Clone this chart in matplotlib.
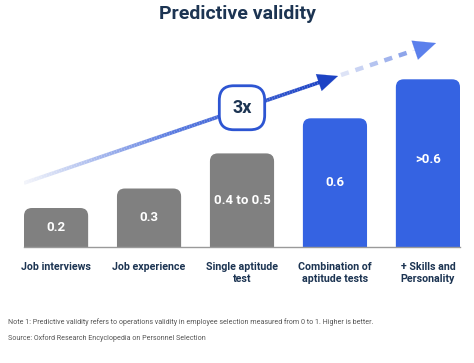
import matplotlib
matplotlib.use('Agg')
import matplotlib.pyplot as plt
import numpy as np
from matplotlib.patches import FancyBboxPatch
from matplotlib.collections import LineCollection
from matplotlib.colors import LinearSegmentedColormap

plt.rcParams['font.family'] = ['Roboto', 'DejaVu Sans']

# data
categories = ['Job interviews', 'Job experience', 'Single aptitude\ntest',
              'Combination of\naptitude tests', '+ Skills and\nPersonality']
bar_labels = ['0.2', '0.3', '0.4 to 0.5', '0.6', '>0.6']
bar_heights = [0.20, 0.30, 0.48, 0.66, 0.86]   # drawn height of each bar
label_pos = [0.10, 0.15, 0.24, 0.33, 0.45]     # where the value text sits
highlight = [False, False, False, True, True]

title = 'Predictive validity'
note = ('Note 1: Predictive validity refers to operations validity in employee '
        'selection measured from 0 to 1. Higher is better.')
source = 'Source: Oxford Research Encyclopedia on Personnel Selection'

navy = '#1c3452'
grey = '#808080'
blue = '#3563e2'

fig = plt.figure(figsize=(4.74, 3.63), dpi=100)
ax = fig.add_axes([24/474, 116/363, 436/474, 217/363])
width = 0.69
x = np.arange(len(categories))
ax.set_xlim(-width/2, len(categories) - 1 + width/2)
ax.set_ylim(0, 217/195)
ax.axis('off')

bars = ax.bar(x, bar_heights, width=width, bottom=0, alpha=0)
aspect = 93/195
for b, lab, ly, hl in zip(bars, bar_labels, label_pos, highlight):
    col = blue if hl else grey
    p = FancyBboxPatch((b.get_x(), -0.08), b.get_width(), b.get_height() + 0.08,
                       boxstyle='round,pad=0,rounding_size=0.085',
                       mutation_aspect=aspect, fc=col, ec='none', zorder=2)
    ax.add_patch(p)
    ax.text(b.get_x() + b.get_width()/2, ly, lab, color='white',
            fontsize=9.5, fontweight='bold', ha='center', va='center', zorder=3)

ax.plot([-width/2, len(categories) - 1 + width/2], [0, 0], color='#9a9a9a',
        lw=1, clip_on=False, zorder=3)

for xi, cat in zip(x, categories):
    ax.text(xi, -0.075, cat, ha='center', va='top', fontsize=7.7,
            fontweight='bold', color=navy, linespacing=1.35)

# trend arrow with gradient
start = np.array([-width/2, 0.328])
tip = np.array([3.033, 0.877])
end = np.array([4.087, 1.046])
cmap = LinearSegmentedColormap.from_list('g', ['#f2f4fa', '#5a7be0', '#1d43c4'])
t = np.linspace(0, 0.95, 120)
pts = start + np.outer(t, tip - start)
segs = np.stack([pts[:-1], pts[1:]], axis=1)
lc = LineCollection(segs, colors=cmap(t[:-1] / 0.95), linewidths=2.7,
                    capstyle='butt', zorder=4)
ax.add_collection(lc)
ax.annotate('', xy=tip, xytext=start + 0.94*(tip - start),
            arrowprops=dict(arrowstyle='-|>,head_length=1.45,head_width=0.64',
                            color='#1d43c4', lw=0.1, shrinkA=0, shrinkB=0,
                            mutation_scale=10), zorder=5)

# dashed continuation
dcmap = LinearSegmentedColormap.from_list('d', ['#dde3f6', '#8ea5ea'])
dash_starts = np.linspace(0.03, 0.62, 5)
dsegs = []
for ds in dash_starts:
    a = tip + ds*(end - tip)
    b2 = tip + (ds + 0.08)*(end - tip)
    dsegs.append([a, b2])
dl = LineCollection(dsegs, colors=dcmap(np.linspace(0, 1, 5)), linewidths=3.2,
                    capstyle='butt', zorder=4)
ax.add_collection(dl)
ax.annotate('', xy=end, xytext=tip + 0.76*(end - tip),
            arrowprops=dict(arrowstyle='-|>,head_length=1.6,head_width=0.72',
                            color='#5b80ec', lw=0.1, shrinkA=0, shrinkB=0,
                            mutation_scale=10), clip_on=False, zorder=5)

bx = 2.0
by = start[1] + (bx - start[0])/(tip[0] - start[0])*(tip[1] - start[1])
ax.text(bx, by + 0.005, '3x', ha='center', va='center', fontsize=13,
        fontweight='bold', color=navy, zorder=6,
        bbox=dict(boxstyle='round,pad=0.72,rounding_size=0.8', fc='white',
                  ec='#2d55d2', lw=2))

fig.text(0.5, 1 - 14/363, title, ha='center', va='center', fontsize=14,
         fontweight='bold', color=navy)
fig.text(8/474, 1 - 322/363, note, ha='left', va='center', fontsize=5.1,
         color='#555555')
fig.text(8/474, 1 - 338/363, source, ha='left', va='center', fontsize=5.1,
         color='#555555')

fig.savefig('out.png', dpi=100, facecolor='white')
